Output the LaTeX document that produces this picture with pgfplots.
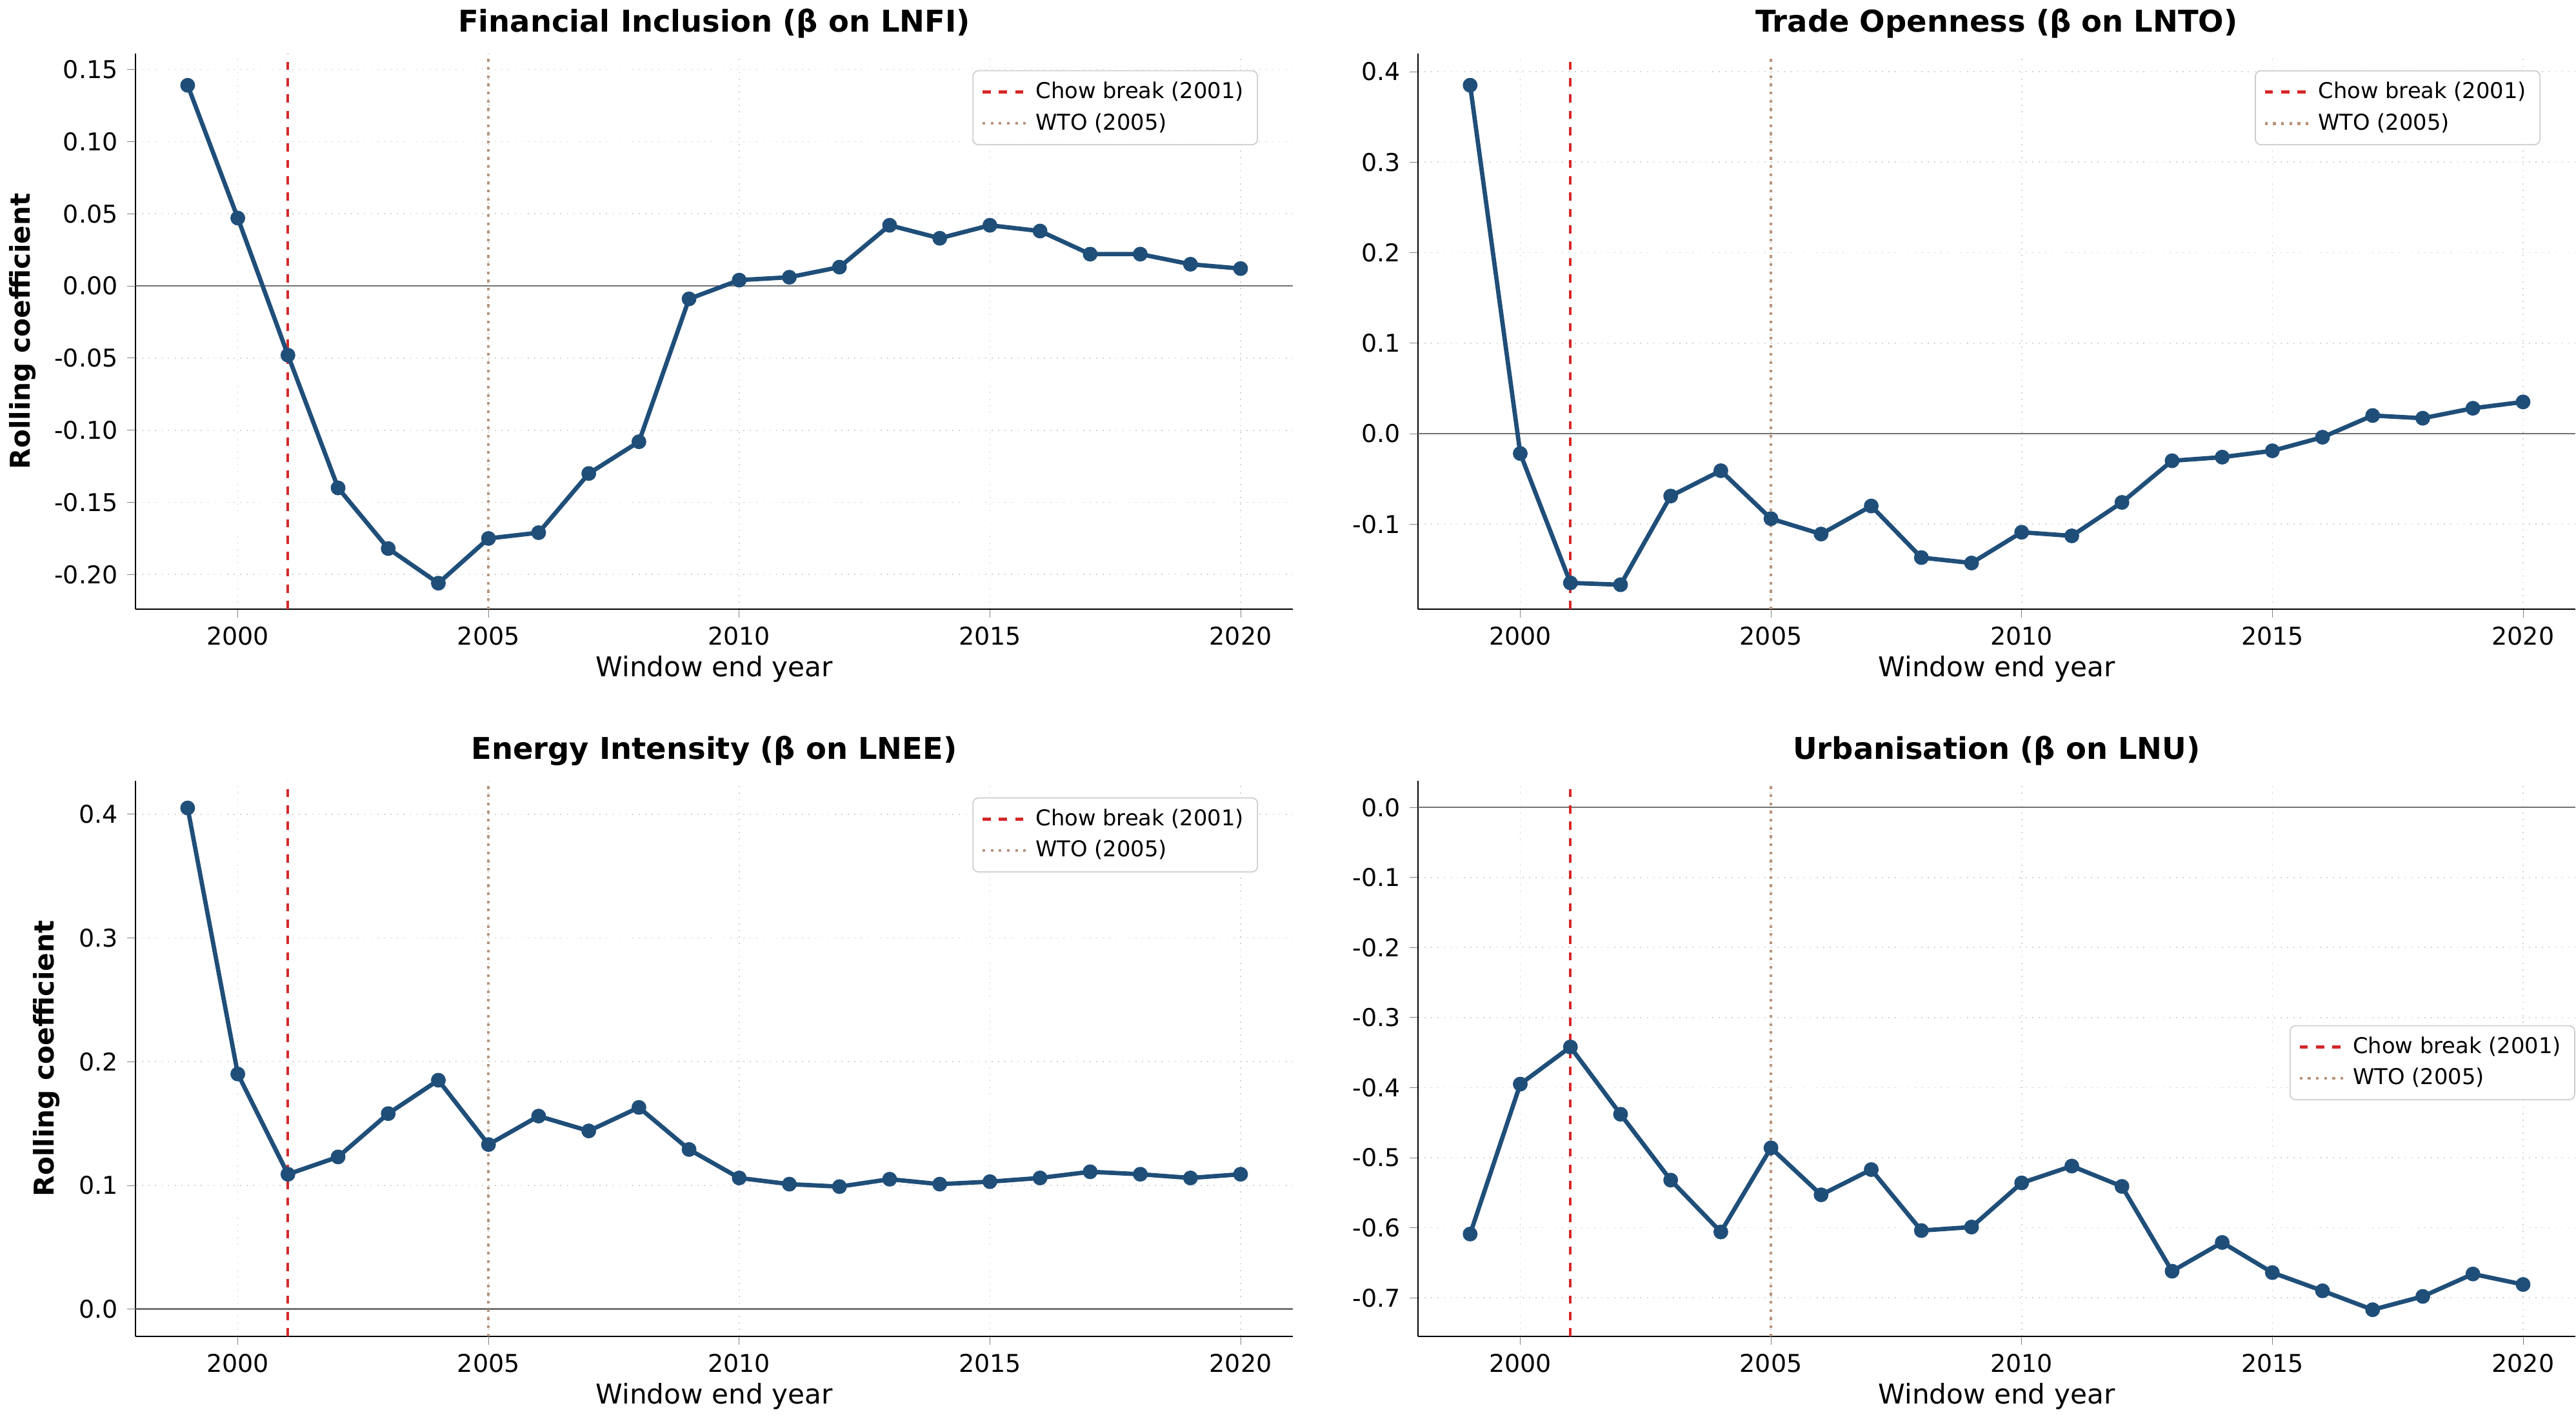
\documentclass[border=0pt]{standalone}
\usepackage{fontspec}
\setmainfont{DejaVu Sans}
\usepackage{pgfplots}
\pgfplotsset{compat=1.18}
\definecolor{ln}{HTML}{1F4E79}
\definecolor{chow}{HTML}{D62728}
\definecolor{wto}{HTML}{B8937A}
\pgfplotsset{
 rc/.style={scale only axis, width=425pt, height=204pt,
  xmin=1997.96, xmax=2021.04,
  axis x line*=bottom, axis y line*=left,
  xtick={2000,2005,...,2020},
  /pgf/number format/assume math mode=true,
  x tick label style={/pgf/number format/1000 sep={}},
  tick label style={font=\fontsize{9}{11}\selectfont},
  label style={font=\fontsize{10}{12}\selectfont},
  title style={font=\fontsize{11}{13}\selectfont\bfseries, yshift=-4pt},
  xlabel={Window end year}, xlabel style={yshift=3pt},
  grid=major, grid style={dotted, gray!35},
  tick align=outside, major tick length=3pt,
  legend style={font=\fontsize{8}{9.5}\selectfont, draw=gray!40, rounded corners=2pt, fill=white, fill opacity=0.9, text opacity=1, legend cell align=left},
  legend pos=north east,
  clip=false,
 },
 ser/.style={ln, line width=1.6pt, mark=*, mark size=1.9pt},
}
\newcommand{\refl}[2]{%
 \addplot[black!55, line width=0.6pt, forget plot] coordinates {(1997.96,0) (2021.04,0)};
 \addplot[chow, dashed, line width=1pt] coordinates {(2001,#1) (2001,#2)};
 \addlegendentry{Chow break (2001)}
 \addplot[wto, dotted, line width=1pt] coordinates {(2005,#1) (2005,#2)};
 \addlegendentry{WTO (2005)}}
\begin{document}
\begin{tikzpicture}
\begin{axis}[rc, at={(0,267pt)}, ymin=-0.224, ymax=0.161, ytick={-0.2,-0.15,...,0.16},
 yticklabel style={/pgf/number format/fixed, /pgf/number format/fixed zerofill, /pgf/number format/precision=2},
 ylabel={\bfseries Rolling coefficient}, title={Financial Inclusion (β on LNFI)}]
\refl{-0.224}{0.161}
\addplot[ser, forget plot] coordinates {(1999,0.139)(2000,0.047)(2001,-0.048)(2002,-0.140)(2003,-0.182)(2004,-0.206)(2005,-0.175)(2006,-0.171)(2007,-0.130)(2008,-0.108)(2009,-0.009)(2010,0.004)(2011,0.006)(2012,0.013)(2013,0.042)(2014,0.033)(2015,0.042)(2016,0.038)(2017,0.022)(2018,0.022)(2019,0.015)(2020,0.012)};
\end{axis}
\begin{axis}[rc, at={(471pt,267pt)}, ymin=-0.194, ymax=0.420, ytick={-0.1,0,...,0.41},
 yticklabel style={/pgf/number format/fixed, /pgf/number format/fixed zerofill, /pgf/number format/precision=1},
 title={Trade Openness (β on LNTO)}]
\refl{-0.194}{0.420}
\addplot[ser, forget plot] coordinates {(1999,0.385)(2000,-0.022)(2001,-0.165)(2002,-0.167)(2003,-0.069)(2004,-0.041)(2005,-0.094)(2006,-0.111)(2007,-0.080)(2008,-0.137)(2009,-0.143)(2010,-0.109)(2011,-0.113)(2012,-0.076)(2013,-0.030)(2014,-0.026)(2015,-0.019)(2016,-0.004)(2017,0.020)(2018,0.017)(2019,0.028)(2020,0.035)};
\end{axis}
\begin{axis}[rc, at={(0,0)}, ymin=-0.022, ymax=0.427, ytick={0,0.1,...,0.41},
 yticklabel style={/pgf/number format/fixed, /pgf/number format/fixed zerofill, /pgf/number format/precision=1},
 ylabel={\bfseries Rolling coefficient}, title={Energy Intensity (β on LNEE)}]
\refl{-0.022}{0.427}
\addplot[ser, forget plot] coordinates {(1999,0.405)(2000,0.190)(2001,0.109)(2002,0.123)(2003,0.158)(2004,0.185)(2005,0.133)(2006,0.156)(2007,0.144)(2008,0.163)(2009,0.129)(2010,0.106)(2011,0.101)(2012,0.099)(2013,0.105)(2014,0.101)(2015,0.103)(2016,0.106)(2017,0.111)(2018,0.109)(2019,0.106)(2020,0.109)};
\end{axis}
\begin{axis}[rc, at={(471pt,0)}, ymin=-0.755, ymax=0.038, ytick={-0.7,-0.6,...,0.01},
 yticklabel style={/pgf/number format/fixed, /pgf/number format/fixed zerofill, /pgf/number format/precision=1},
 legend style={at={(1,0.56)}, anchor=north east},
 title={Urbanisation (β on LNU)}]
\refl{-0.755}{0.038}
\addplot[ser, forget plot] coordinates {(1999,-0.609)(2000,-0.395)(2001,-0.342)(2002,-0.438)(2003,-0.532)(2004,-0.606)(2005,-0.486)(2006,-0.553)(2007,-0.517)(2008,-0.604)(2009,-0.599)(2010,-0.536)(2011,-0.512)(2012,-0.541)(2013,-0.662)(2014,-0.621)(2015,-0.664)(2016,-0.690)(2017,-0.717)(2018,-0.698)(2019,-0.666)(2020,-0.681)};
\end{axis}
\end{tikzpicture}
\end{document}
